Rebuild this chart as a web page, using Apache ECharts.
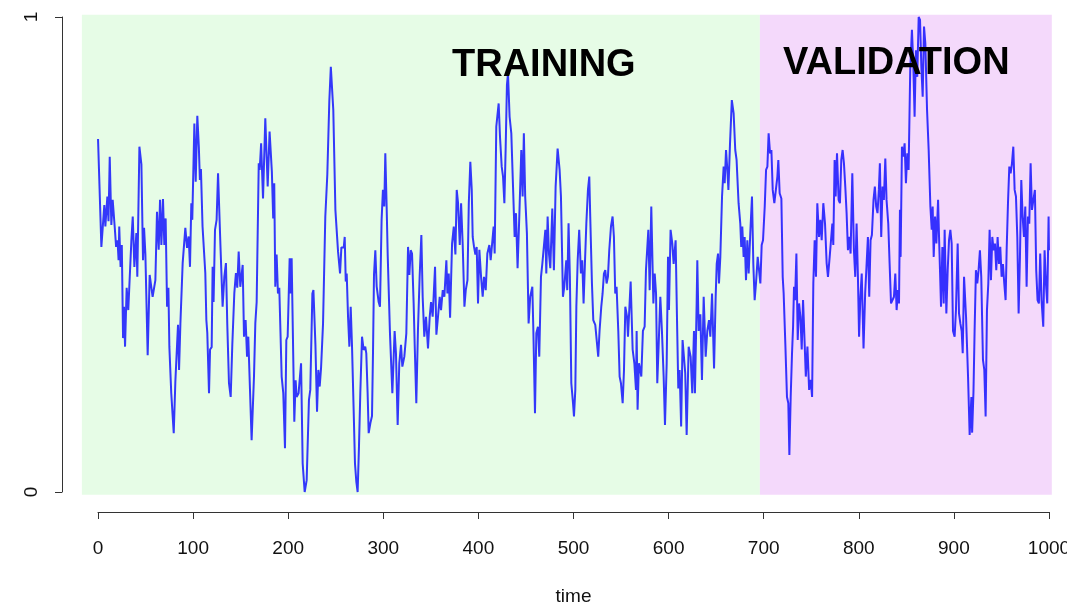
<!DOCTYPE html>
<html>
<head>
<meta charset="utf-8">
<script src="https://cdn.jsdelivr.net/npm/echarts@6/dist/echarts.min.js"></script>
<style>html,body{margin:0;padding:0;background:#fff}#c{width:1067px;height:605px}</style>
</head>
<body>
<div id="c"></div>
<script>
// ---- data ----
const time = [0,3.5,6.6,7.7,9.8,11,12.3,14,15.4,17.5,19,20.5,21.6,22.3,23.7,25,26.3,27.3,28.4,30.1,31.8,35,36.5,38.2,40.3,41.3,43.5,45.6,47.3,48.4,49.8,52.2,54.3,57.4,60.3,62,63.8,65.2,66.6,68.3,69.7,71.1,72.6,74,75,77,
79.6,81.3,82.7,84.1,85.2,86.6,89,91.8,93.6,95.3,96.7,98.1,99.1,101.3,102.7,104.4,106,107.1,108.2,109.9,112.8,113.9,114.9,116.7,117.8,119.5,120.5,121.5,123,124.7,126.2,128.7,131,132.8,134.5,135.9,137.7,139.5,141.2,143.3,145,146.4,147.9,149.6,152.1,153.5,155.2,156.7,158,161.5,
164,165.4,166.8,169,170,171.5,173.5,175.9,178.4,180.4,182.8,184.2,185.3,186.4,187.8,189.2,190.6,193.1,194.8,196.6,198,199.4,201.5,202.5,203.6,206.4,207.8,208.8,210.9,213.5,215.2,217.3,219.4,221.8,223.2,225.4,226.5,228.6,230.3,231.7,233.1,234.5,236.6,239,241.1,243.2,244.8,
247.4,249.6,252.4,253.1,254.5,255.9,258.4,259.4,260.5,261.5,262.9,264.3,265.7,267.1,268.8,270.2,271.6,273,274.4,275.8,277.6,279.3,281,282.1,283.5,284.6,286.4,288.1,289.2,290.2,291.6,293,295.1,296.5,298.2,299.6,301,302.1,303.5,304.6,307,309.5,311.9,313.3,315.1,316.8,318.6,320,322.1,324.2,326,327.4,328.8,
330.2,331.9,333,334.7,336.4,338.2,340,341.4,343.1,344.9,347,348.8,350.2,351.9,354.4,355.8,357.5,359.3,360.7,362.5,364.2,366.3,367.4,368.8,370.2,372.3,374.1,375.8,377.2,378.6,380.4,381.8,383.5,385.3,386.7,388.5,389.9,391.5,393,394,395.4,396.8,398.2,399.6,401,402.8,404.5,405.9,407.7,409.4,411.5,412.9,414.3,
416,417.1,418.8,421.3,422.7,424.5,425.9,427.3,428.7,430,431.1,432.8,434.6,436.4,438.1,439.5,441.2,443,445.1,446.5,447.8,449.2,451,452.8,454.5,456.7,457.8,459.5,460.9,462.6,464,465.8,467.2,469,470.4,471.4,472.8,474.2,475.6,477.7,479.4,481.2,483.3,485.4,486.8,488.9,490.3,492.4,493.4,494.8,496.2,497.7,
499.5,500.5,501.9,503,504.4,506,507.8,509.2,510.6,512,513.5,515.2,516.6,517.6,519.4,520.8,522.9,524.3,526,527.4,529.2,530.6,532,533.4,534.8,536.2,537.6,539.4,541.1,542.5,543.9,545.3,547.1,548.5,549.9,551.7,553.1,554.5,556.3,557.3,560.1,562.2,564,565.7,566.4,567.4,568.8,570.2,571.3,573,574.8,576.2,578.7,580.1,581.8,
584,585.4,586.8,588.1,589.5,591.3,593,594.8,596.2,598,599.4,600.4,602.1,603.9,605.3,607.4,608.8,610.2,611.6,613.2,614.7,616.1,617.5,619,621.1,623.2,624.9,626.7,627.7,629.5,630.2,631.6,633.4,635.1,636.9,639,640.7,642.5,643.9,645.7,647.8,649.5,650.6,652,653,654.4,656.2,657.9,659,660.4,661.8,662.9,664.6,666.5,
668.4,670.1,671.5,673.6,675.4,676.4,677.5,678.9,680,681.4,682.8,684.2,685.9,687.7,689.1,690.5,691.9,693.7,695.1,696.5,697.9,699.3,701.1,702.5,703.9,705.2,706.7,708.1,709.5,711.2,712.6,714.4,715.4,716.8,718.6,720,721,722.8,724.5,725.9,727,728.4,729.8,730.9,731.9,733,734.4,735.8,737.2,738.6,740,741.4,743.2,744.3,746,747.8,749.5,750.9,
752.2,753.6,755,756.4,758.2,759.6,761,762.7,764.5,766.2,767.6,769.4,770.8,772.2,773.2,774.6,775.7,777.1,778.8,780.2,781.6,783,784.4,785.8,787.2,788.6,790,791.4,793.2,794.9,796.3,797.7,799.1,800.3,801.7,803.1,805,806.7,808.1,809.6,811,812.4,813.8,815.5,816.9,818.3,819.7,821.1,822.2,823.6,825,826.4,827.9,829.2,831,832.4,833.9,
835.6,837,838.4,839.8,841.2,842.3,843.3,844,845.4,846.8,848.2,849.6,851,852.4,854.1,855.9,857.3,858.7,860.1,861.5,863,864.4,865.8,867.2,868.6,870,871.8,873.5,875.3,876.7,877.7,878.8,880.2,881.6,883.4,884.4,885.5,886.5,887.9,889.3,890.3,892.1,893.5,894.9,896.3,897.7,899.1,900.8,902.2,904,905.4,906.8,908.2,909.3,910.7,912.8,914.9,916.6,918.4,919.2,920.6,921.8,
923.2,924.6,926,927.4,928.8,930.6,932,933.4,934.8,936.2,937.6,939,940.4,941.8,943.2,944.6,946,947.4,948.8,950.2,951.6,953,954.4,955.5,956.9,958.3,959.7,961.1,962.5,963.9,965.3,966.7,968.1,969.5,970.9,972.3,973.7,975.1,976.5,977.9,979.3,980.7,982.1,983.8,985.2,986.6,988,989.4,990.8,992.2,994,995.4,996.8,998.2,999.6,1000];

const value = [0.743,0.516,0.604,0.559,0.622,0.57,0.706,0.562,0.615,0.559,0.516,0.53,0.488,0.559,0.474,0.52,0.324,0.39,0.306,0.43,0.383,0.527,0.58,0.474,0.545,0.453,0.727,0.69,0.488,0.556,0.5,0.288,0.457,0.411,0.446,0.59,0.51,0.615,0.52,0.617,0.52,0.576,0.39,0.43,0.306,0.208,
0.124,0.232,0.235,0.352,0.257,0.354,0.482,0.556,0.514,0.538,0.474,0.608,0.573,0.776,0.653,0.792,0.727,0.657,0.68,0.559,0.461,0.362,0.335,0.208,0.3,0.305,0.474,0.4,0.552,0.573,0.671,0.52,0.39,0.453,0.482,0.354,0.229,0.2,0.31,0.418,0.461,0.43,0.506,0.432,0.478,0.327,0.362,0.285,0.327,0.109,
0.243,0.355,0.4,0.692,0.678,0.734,0.618,0.787,0.643,0.759,0.674,0.576,0.65,0.432,0.5,0.418,0.43,0.243,0.208,0.092,0.32,0.327,0.492,0.418,0.492,0.148,0.235,0.2,0.208,0.271,0.06,0.0,0.025,0.194,0.215,0.418,0.425,0.31,0.169,0.257,0.222,0.26,0.354,0.58,0.668,0.822,0.895,
0.804,0.594,0.506,0.51,0.46,0.515,0.515,0.537,0.443,0.46,0.369,0.306,0.39,0.306,0.173,0.06,0.022,0.0,0.095,0.208,0.327,0.299,0.306,0.292,0.208,0.124,0.145,0.16,0.3,0.457,0.509,0.433,0.4,0.39,0.573,0.636,0.601,0.713,0.601,0.5,0.334,0.208,0.339,0.292,0.141,0.271,0.31,0.264,0.285,0.334,0.516,0.457,0.509,
0.502,0.397,0.31,0.187,0.339,0.453,0.541,0.41,0.327,0.369,0.302,0.369,0.4,0.369,0.474,0.331,0.369,0.411,0.383,0.425,0.411,0.488,0.418,0.46,0.367,0.523,0.559,0.5,0.636,0.608,0.52,0.608,0.52,0.39,0.425,0.446,0.608,0.695,0.636,0.537,0.516,0.5,0.516,0.397,0.51,0.453,0.411,0.453,0.425,0.502,0.52,0.488,0.52,
0.559,0.502,0.769,0.818,0.748,0.685,0.664,0.608,0.727,0.857,0.881,0.79,0.755,0.643,0.537,0.587,0.471,0.58,0.72,0.622,0.755,0.622,0.545,0.355,0.411,0.432,0.339,0.166,0.334,0.348,0.285,0.453,0.48,0.48,0.552,0.46,0.58,0.502,0.471,0.597,0.467,0.643,0.723,0.678,0.622,0.411,0.432,0.488,0.425,0.566,0.453,0.229,
0.187,0.159,0.215,0.39,0.488,0.552,0.46,0.488,0.397,0.48,0.565,0.636,0.664,0.58,0.439,0.362,0.352,0.354,0.285,0.339,0.39,0.418,0.46,0.467,0.439,0.453,0.509,0.559,0.58,0.537,0.418,0.432,0.339,0.243,0.229,0.187,0.257,0.39,0.369,0.327,0.443,0.3,0.271,0.215,0.339,0.173,0.271,0.257,0.243,0.339,0.348,0.467,0.552,0.425,0.601,
0.397,0.46,0.418,0.229,0.306,0.411,0.339,0.243,0.141,0.271,0.495,0.383,0.552,0.523,0.48,0.53,0.369,0.218,0.257,0.138,0.32,0.285,0.25,0.12,0.306,0.285,0.208,0.339,0.208,0.397,0.488,0.339,0.374,0.236,0.411,0.285,0.339,0.362,0.327,0.418,0.26,0.411,0.48,0.502,0.439,0.495,0.622,0.685,0.65,0.72,0.678,0.636,0.734,0.825,
0.797,0.72,0.699,0.608,0.565,0.516,0.559,0.495,0.537,0.446,0.53,0.46,0.545,0.622,0.48,0.404,0.439,0.495,0.467,0.439,0.52,0.53,0.601,0.678,0.685,0.755,0.713,0.72,0.636,0.608,0.61,0.664,0.699,0.629,0.618,0.453,0.418,0.31,0.2,0.187,0.078,0.2,0.292,0.348,0.432,0.404,0.502,0.32,0.397,0.369,0.3,0.404,0.306,0.243,0.306,0.215,0.236,0.2,
0.439,0.53,0.453,0.608,0.537,0.573,0.53,0.608,0.565,0.482,0.453,0.495,0.53,0.565,0.52,0.699,0.622,0.713,0.615,0.608,0.699,0.72,0.692,0.643,0.587,0.509,0.537,0.502,0.671,0.509,0.453,0.565,0.453,0.327,0.411,0.46,0.302,0.418,0.474,0.537,0.411,0.53,0.541,0.615,0.643,0.601,0.587,0.636,0.692,0.537,0.643,0.615,0.702,0.615,0.565,0.482,0.397,
0.397,0.411,0.46,0.383,0.425,0.397,0.594,0.495,0.727,0.706,0.734,0.65,0.713,0.678,0.888,0.973,0.902,0.79,0.93,0.874,1.0,0.994,0.895,0.832,0.98,0.944,0.804,0.72,0.601,0.552,0.601,0.495,0.58,0.523,0.615,0.537,0.46,0.39,0.516,0.397,0.552,0.376,0.467,0.53,0.552,0.523,0.339,0.327,0.383,0.523,0.376,0.355,0.339,0.292,0.453,0.369,0.243,0.12,0.2,0.125,0.21,0.339,
0.467,0.439,0.467,0.509,0.453,0.278,0.257,0.159,0.383,0.439,0.552,0.446,0.537,0.509,0.523,0.467,0.537,0.48,0.516,0.453,0.48,0.439,0.404,0.509,0.608,0.685,0.671,0.692,0.727,0.636,0.622,0.537,0.376,0.495,0.657,0.58,0.537,0.601,0.432,0.58,0.565,0.692,0.594,0.594,0.636,0.467,0.404,0.397,0.502,0.404,0.348,0.509,0.439,0.397,0.58,0.509];

const phaseNames = ['TRAINING', 'VALIDATION'];
const phaseStart = [-17, 696];
const phaseEnd = [696, 1003];
const phaseColors = ['#e6fce6', '#f4d9fb'];
const xTickStep = 100;
const yTicks = [0, 1];
const xLabel = 'time';

// ---- chart ----
const chart = echarts.init(document.getElementById('c'), null, {renderer: 'canvas'});
const pairs = time.map((t, i) => [t, value[i]]);
const font = 'Liberation Sans, Arial, Helvetica, sans-serif';

const areas = phaseNames.map((n, i) => [
  {xAxis: phaseStart[i], yAxis: 1.005, itemStyle: {color: phaseColors[i]}},
  {xAxis: phaseEnd[i], yAxis: -0.006}
]);

chart.setOption({
  animation: false,
  backgroundColor: '#ffffff',
  grid: [
    {left: 60, top: -2, width: 1027, height: 513, containLabel: false, outerBoundsMode: 'none'},
    {left: 98, top: 17, width: 951, height: 475, containLabel: false, outerBoundsMode: 'none'}
  ],
  xAxis: [
    {gridIndex: 0, type: 'value', min: -40, max: 1040, show: false},
    {gridIndex: 1, type: 'value', min: 0, max: 1000, interval: xTickStep, offset: 20,
     axisLine: {show: true, onZero: false, lineStyle: {color: '#333', width: 1}},
     axisTick: {show: true, length: 7, lineStyle: {color: '#333'}},
     axisLabel: {show: true, margin: 27, color: '#111', fontSize: 19, fontFamily: font,
                 formatter: v => String(v)},
     splitLine: {show: false},
     name: xLabel, nameLocation: 'middle', nameGap: 75,
     nameTextStyle: {color: '#111', fontSize: 19, fontFamily: font}}
  ],
  yAxis: [
    {gridIndex: 0, type: 'value', min: -0.04, max: 1.04, show: false},
    {gridIndex: 1, type: 'value', min: yTicks[0], max: yTicks[yTicks.length - 1], interval: 1, offset: 36,
     axisLine: {show: true, onZero: false, lineStyle: {color: '#333', width: 1}},
     axisTick: {show: true, length: 7, lineStyle: {color: '#333'}},
     axisLabel: {show: true, rotate: 90, margin: 21, color: '#111', fontSize: 19, fontFamily: font,
                 formatter: v => String(v)},
     splitLine: {show: false}}
  ],
  series: [
    {
      type: 'line', xAxisIndex: 0, yAxisIndex: 0, data: pairs,
      showSymbol: false, symbol: 'none', clip: false,
      lineStyle: {color: 'rgba(0,0,255,0.78)', width: 2},
      markArea: {silent: true, data: areas, itemStyle: {opacity: 1}},
      z: 2
    },
    {type: 'line', xAxisIndex: 1, yAxisIndex: 1, data: [], showSymbol: false}
  ],
  graphic: [
    {type: 'text', z: 100, left: 545 - 93, top: 47, style: {text: phaseNames[0], fontSize: 38, fontWeight: 'bold', fontFamily: font, fill: '#000'}},
    {type: 'text', z: 100, left: 898 - 115, top: 45, style: {text: phaseNames[1], fontSize: 38, fontWeight: 'bold', fontFamily: font, fill: '#000'}}
  ]
});
</script>
</body>
</html>
